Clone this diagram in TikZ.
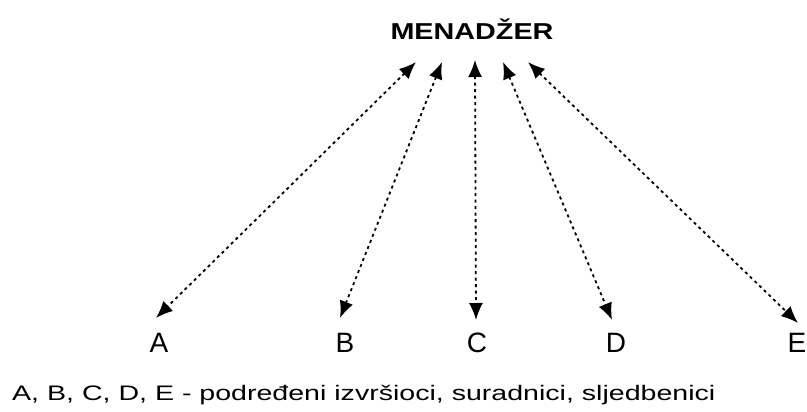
\documentclass[tikz,border=0pt]{standalone}
\usepackage{fontspec}
\setmainfont{Liberation Sans}
\usetikzlibrary{arrows.meta}
\begin{document}
\begin{tikzpicture}[x=1pt,y=-1pt,
  lbl/.style={font=\fontsize{28}{32}\selectfont, inner sep=0pt},
  link/.style={line width=1.8pt, dash pattern=on 3pt off 3.5pt, {Latex[length=17pt,width=14pt]}-{Latex[length=17pt,width=14pt]}}]
\useasboundingbox (0,0) rectangle (807,412);
\node[inner sep=0pt, font=\bfseries\fontsize{23}{26}\selectfont] (m) at (472,29) {\scalebox{1.25}[1]{MENADŽER}};
\coordinate (ta) at (416,62);
\coordinate (tb) at (442,62);
\coordinate (tc) at (475,60);
\coordinate (td) at (503,62);
\coordinate (te) at (528,62);
\node[lbl] (a) at (159,343) {A};
\node[lbl] (b) at (345,343) {B};
\node[lbl] (c) at (477,343) {C};
\node[lbl] (d) at (616,343) {D};
\node[lbl] (e) at (797,343) {E};
\coordinate (ba) at (156,318);
\coordinate (bb) at (340,318);
\coordinate (bc) at (476,320);
\coordinate (bd) at (612,320);
\coordinate (be) at (798,323);
\draw[link] (ta) -- (ba);
\draw[link] (tb) -- (bb);
\draw[link] (tc) -- (bc);
\draw[link] (td) -- (bd);
\draw[link] (te) -- (be);
\node[inner sep=0pt, anchor=west, font=\fontsize{21}{24}\selectfont] (cap) at (12,395) {\scalebox{1.36}[1]{A, B, C, D, E - podređeni izvršioci, suradnici, sljedbenici}};
\end{tikzpicture}
\end{document}
